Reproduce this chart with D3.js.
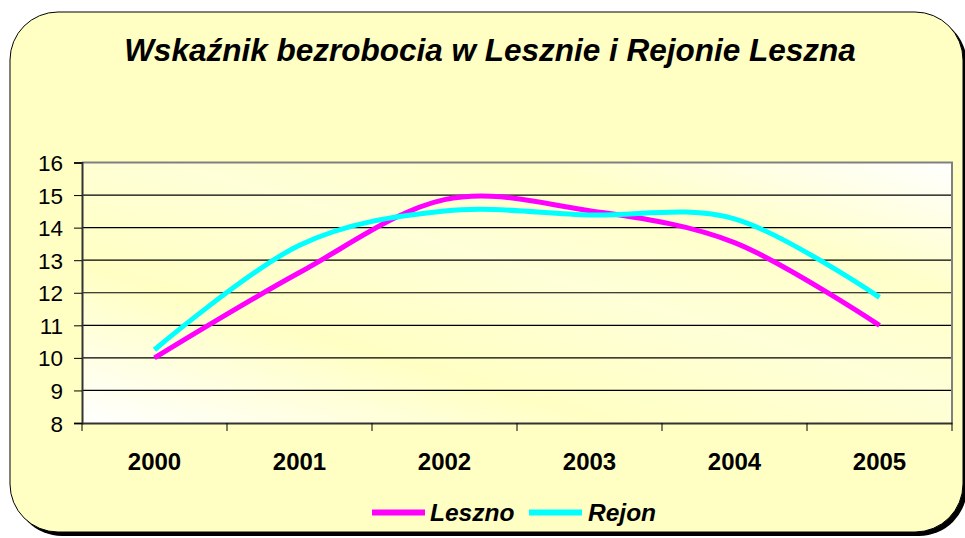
<!DOCTYPE html>
<html>
<head>
<meta charset="utf-8">
<script src="https://cdn.jsdelivr.net/npm/d3@7"></script>
<style>
  body { margin: 0; background: #fff; }
  text { font-family: Arial, "Liberation Sans", sans-serif; }
</style>
</head>
<body>
<div id="chart"></div>
<script>
// === data ===
const years = ["2000", "2001", "2002", "2003", "2004", "2005"];
const leszno = [10.0, 12.62, 14.86, 14.52, 13.54, 11.0];
const rejon = [10.25, 13.46, 14.51, 14.39, 14.27, 11.86];
const yTicks = [8, 9, 10, 11, 12, 13, 14, 15, 16];
const seriesNames = ["Leszno", "Rejon"];
const seriesColors = ["#ff00ff", "#00ffff"];

const width = 965, height = 538;
const plot = {left: 82, right: 952, top: 162.5, bottom: 423};

const svg = d3.select("#chart").append("svg")
    .attr("width", width).attr("height", height);

const defs = svg.append("defs");
const grad = defs.append("linearGradient").attr("id", "plotGrad")
    .attr("x1", "0").attr("y1", "1").attr("x2", "1").attr("y2", "0");
[[0, "#ffffff"], [0.3, "#ffffc4"], [0.55, "#ffffd8"], [0.75, "#ffffca"], [1, "#ffffff"]]
    .forEach(([o, c]) => grad.append("stop").attr("offset", o).attr("stop-color", c));

// outer rounded box with shadow
svg.append("rect")
    .attr("x", 14).attr("y", 16).attr("width", 953).attr("height", 520)
    .attr("rx", 48).attr("ry", 48).attr("fill", "#000");
svg.append("rect")
    .attr("x", 10).attr("y", 12).attr("width", 953).attr("height", 520)
    .attr("rx", 48).attr("ry", 48)
    .attr("fill", "#ffffc4").attr("stroke", "#000").attr("stroke-width", 1);

svg.append("text")
    .attr("x", 490).attr("y", 61)
    .attr("text-anchor", "middle")
    .style("font-size", "31.5px").style("font-weight", "bold").style("font-style", "italic")
    .text("Wskaźnik bezrobocia w Lesznie i Rejonie Leszna");

// scales
const x = d3.scaleBand().domain(years).range([plot.left, plot.right]).paddingInner(0).paddingOuter(0);
const y = d3.scaleLinear().domain([8, 16]).range([plot.bottom, plot.top]);
const cx = d => x(d) + x.bandwidth() / 2;

// plot area
svg.append("rect")
    .attr("x", plot.left).attr("y", plot.top)
    .attr("width", plot.right - plot.left).attr("height", plot.bottom - plot.top)
    .attr("fill", "url(#plotGrad)");

// gridlines
svg.append("g").selectAll("line")
    .data(yTicks.filter(t => t > 8 && t < 16))
    .join("line")
    .attr("x1", plot.left).attr("x2", plot.right)
    .attr("y1", d => y(d)).attr("y2", d => y(d))
    .attr("stroke", "#000").attr("stroke-width", 1.2);

// top and right border
svg.append("path")
    .attr("d", `M${plot.left},${plot.top}H${plot.right}V${plot.bottom}`)
    .attr("fill", "none").attr("stroke", "#808080").attr("stroke-width", 2);

// y axis
const yAxis = svg.append("g")
    .attr("transform", `translate(${plot.left},0)`)
    .call(d3.axisLeft(y).tickValues(yTicks).tickSize(8).tickPadding(11));
yAxis.select(".domain").attr("stroke", "#333").attr("stroke-width", 2);
yAxis.selectAll(".tick line").attr("stroke", "#000");
yAxis.selectAll("text").style("font-size", "22.5px").attr("fill", "#000").attr("dy", "0.36em");

// x axis
const xAxis = svg.append("g")
    .attr("transform", `translate(0,${plot.bottom})`)
    .call(d3.axisBottom(x).tickSize(0).tickPadding(0));
xAxis.select(".domain").attr("stroke", "#333").attr("stroke-width", 2);
xAxis.selectAll("text")
    .attr("y", 47).attr("dy", 0)
    .style("font-size", "24px").style("font-weight", "bold").attr("fill", "#000");
xAxis.selectAll(".bound")
    .data(years.concat(["end"]))
    .join("line")
    .attr("class", "bound")
    .attr("x1", (d, i) => i < years.length ? x(d) : plot.right)
    .attr("x2", (d, i) => i < years.length ? x(d) : plot.right)
    .attr("y1", 0).attr("y2", 8)
    .attr("stroke", "#000");

// lines
const line = d3.line()
    .x((d, i) => cx(years[i]))
    .y(d => y(d))
    .curve(d3.curveCatmullRom.alpha(0));

[leszno, rejon].forEach((s, i) => {
    svg.append("path")
        .datum(s)
        .attr("d", line)
        .attr("fill", "none")
        .attr("stroke", seriesColors[i])
        .attr("stroke-width", 5)
        .attr("stroke-linejoin", "round");
});

// legend
const legendItems = [
    {sx: 372, tx: 430},
    {sx: 529, tx: 588}
];
const legend = svg.append("g");
seriesNames.forEach((name, i) => {
    legend.append("line")
        .attr("x1", legendItems[i].sx).attr("x2", legendItems[i].sx + 53)
        .attr("y1", 512.5).attr("y2", 512.5)
        .attr("stroke", seriesColors[i]).attr("stroke-width", 6);
    legend.append("text")
        .attr("x", legendItems[i].tx).attr("y", 521)
        .style("font-size", "24.5px").style("font-weight", "bold").style("font-style", "italic")
        .text(name);
});
</script>
</body>
</html>
